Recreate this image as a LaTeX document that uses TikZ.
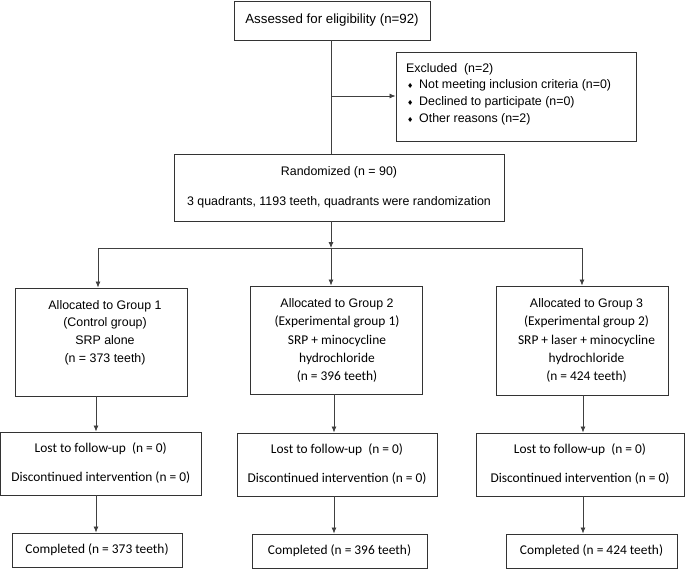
\documentclass[tikz,border=0pt]{standalone}
\usepackage{fontspec}
\setmainfont{Liberation Sans}
\newfontfamily\calfont{Carlito}
\newfontfamily\bulfont{DejaVu Sans}
\usetikzlibrary{arrows.meta}
\begin{document}
\begin{tikzpicture}[x=1pt,y=-1pt,
  box/.style={draw=black!80,line width=0.9pt,inner sep=0pt,fill=white},
  arial/.style={font=\fontsize{12.4}{16}\selectfont},
  calib/.style={font=\calfont\fontsize{13.4}{18}\selectfont},
  txt/.style={inner sep=0pt,align=center},
  ln/.style={draw=black!75,line width=0.8pt},
  arr/.style={ln,-{Latex[length=6pt,width=5pt]}}]
\useasboundingbox[fill=white] (0,0) rectangle (685,570);

% boxes
\node[box,font=\fontsize{13.3}{16}\selectfont,minimum width=196pt,minimum height=39pt] (assess) at (332,20.5) {Assessed for eligibility (n=92)};
\node[box,minimum width=240pt,minimum height=89pt] (excl) at (516,96.5) {};
\node[txt,align=left,anchor=north west,font=\fontsize{12.4}{16.7}\selectfont] (exclt) at (406,63)
 {Excluded~~(n=2)\\
  \makebox[13pt][l]{\hspace{1pt}\bulfont\fontsize{7}{7}\selectfont ♦}Not meeting inclusion criteria (n=0)\\
  \makebox[13pt][l]{\hspace{1pt}\bulfont\fontsize{7}{7}\selectfont ♦}Declined to participate (n=0)\\
  \makebox[13pt][l]{\hspace{1pt}\bulfont\fontsize{7}{7}\selectfont ♦}Other reasons (n=2)};
\node[box,align=center,font=\fontsize{12.4}{30}\selectfont,minimum width=330pt,minimum height=67pt] (rand) at (339,187.5)
 {Randomized (n = 90)\\3 quadrants, 1193 teeth, quadrants were randomization};

\node[box,minimum width=172pt,minimum height=108pt] (g1) at (101,342) {};
\node[box,minimum width=172pt,minimum height=108pt] (g2) at (336,340) {};
\node[box,minimum width=172pt,minimum height=109pt] (g3) at (582,340.5) {};
\node[txt,anchor=north,font=\fontsize{12.4}{17.7}\selectfont] (g1t) at (105,300)
 {Allocated to Group 1\\(Control group)\\SRP alone\\(n = 373 teeth)};
\node[txt,anchor=north,font=\fontsize{12.4}{18.2}\selectfont] (g2t) at (337,298.5)
 {Allocated to Group 2\\{\calfont\fontsize{13.4}{18.2}\selectfont (Experimental group 1)}\\{\calfont\fontsize{13.4}{18.2}\selectfont SRP + minocycline}\\{\calfont\fontsize{13.4}{18.2}\selectfont hydrochloride}\\{\calfont\fontsize{13.4}{18.2}\selectfont (n = 396 teeth)}};
\node[txt,anchor=north,font=\fontsize{12.4}{18.2}\selectfont] (g3t) at (586.5,298.5)
 {Allocated to Group 3\\{\calfont\fontsize{13.4}{18.2}\selectfont (Experimental group 2)}\\{\calfont\fontsize{13.4}{18.2}\selectfont SRP + laser + minocycline}\\{\calfont\fontsize{13.4}{18.2}\selectfont hydrochloride}\\{\calfont\fontsize{13.4}{18.2}\selectfont (n = 424 teeth)}};

\node[box,align=center,font=\calfont\fontsize{13.4}{29}\selectfont,minimum width=200.5pt,minimum height=63pt] (l1) at (100.75,463.5)
 {Lost to follow-up~~(n = 0)\\Discontinued intervention (n = 0)};
\node[box,align=center,font=\calfont\fontsize{13.4}{29}\selectfont,minimum width=200pt,minimum height=63pt] (l2) at (337,464.5)
 {Lost to follow-up~~(n = 0)\\Discontinued intervention (n = 0)};
\node[box,align=center,font=\calfont\fontsize{13.4}{29}\selectfont,minimum width=208pt,minimum height=63pt] (l3) at (580,464.5)
 {Lost to follow-up~~(n = 0)\\Discontinued intervention (n = 0)};

\node[box,calib,minimum width=170pt,minimum height=34pt] (c1) at (97,550) {Completed (n = 373 teeth)};
\node[box,calib,minimum width=175pt,minimum height=34pt] (c2) at (339.5,551) {Completed (n = 396 teeth)};
\node[box,calib,minimum width=171pt,minimum height=34pt] (c3) at (591.5,551) {Completed (n = 424 teeth)};

% connectors
\coordinate (vx) at (331,96);
\draw[ln] (assess.south -| vx) -- (rand.north -| vx);
\draw[arr] (vx) -- (excl.west |- vx);
\coordinate (hm) at (331,248);
\coordinate (hl) at (98,248);
\coordinate (hr) at (582,248);
\draw[ln] (hl) -- (hr);
\draw[arr] (rand.south -| hm) -- (hm);
\draw[arr] (hl) -- (g1.north -| hl);
\draw[arr] (hm) -- (g2.north -| hm);
\draw[arr] (hr) -- (g3.north -| hr);
\coordinate (a1) at (96,0);
\coordinate (a2) at (334,0);
\coordinate (a3) at (583,0);
\draw[arr] (g1.south -| a1) -- (l1.north -| a1);
\draw[arr] (g2.south -| a2) -- (l2.north -| a2);
\draw[arr] (g3.south -| a3) -- (l3.north -| a3);
\draw[arr] (l1.south -| a1) -- (c1.north -| a1);
\draw[arr] (l2.south -| a2) -- (c2.north -| a2);
\draw[arr] (l3.south -| a3) -- (c3.north -| a3);
\end{tikzpicture}
\end{document}
